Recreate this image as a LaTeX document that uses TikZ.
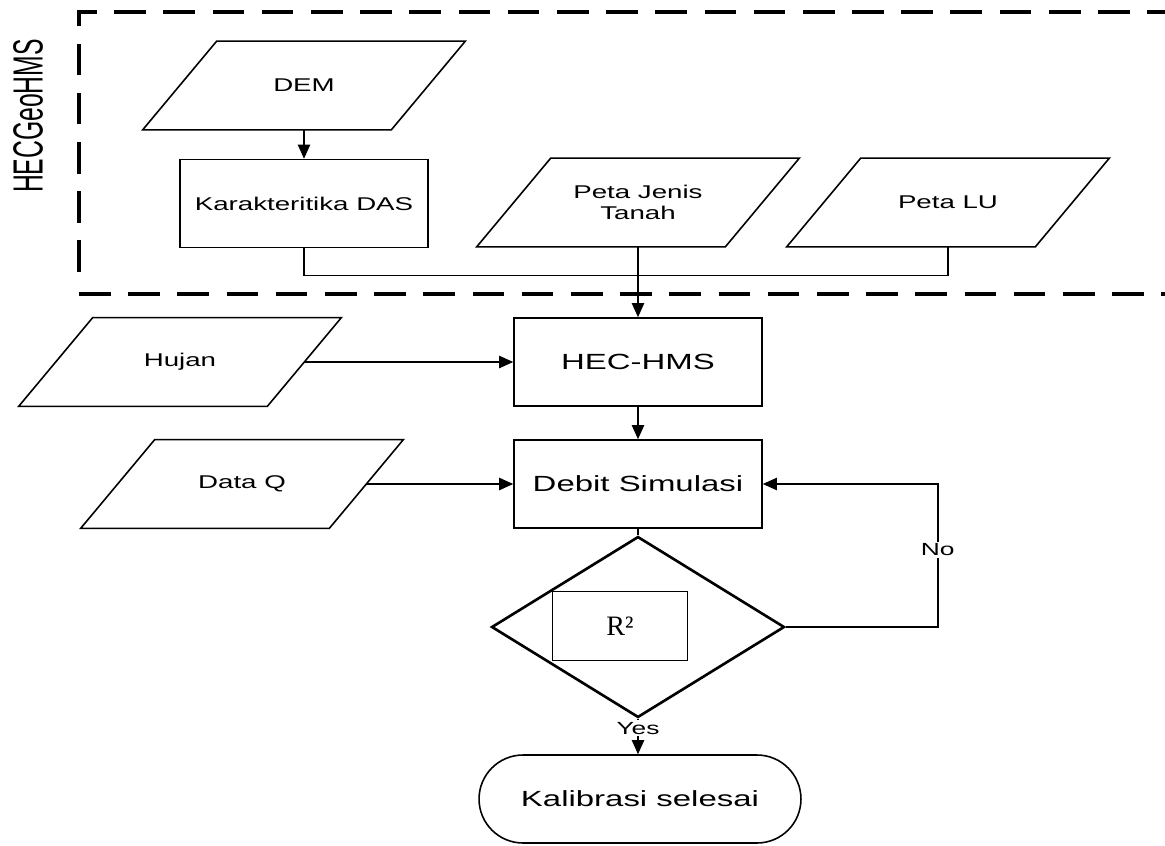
\documentclass[tikz,border=0pt]{standalone}
\usepackage{fontspec}
\setmainfont{Liberation Sans}
\newfontfamily\flowfont{Liberation Sans}[FakeStretch=1.5]
\newfontfamily\rfont{Liberation Serif}
\usetikzlibrary{shapes.geometric, arrows.meta}

\begin{document}
\begin{tikzpicture}[x=0.02cm, y=-0.02cm, >={Triangle[length=8pt,width=7pt]},
  datain/.style={minimum width=4.96cm, minimum height=1.76cm, inner sep=0pt,
    align=center, font=\flowfont\fontsize{10.5}{11.5}\selectfont,
    append after command={\pgfextra{\draw[line width=0.9pt]
      ([xshift=0.74cm]\tikzlastnode.north west) -- ([xshift=0.74cm]\tikzlastnode.north east)
      -- ([xshift=-0.74cm]\tikzlastnode.south east) -- ([xshift=-0.74cm]\tikzlastnode.south west)
      -- cycle;}}},
  procbox/.style={draw, line width=0.9pt, minimum width=4.96cm,
    minimum height=1.76cm, inner sep=0pt, align=center},
  cekbox/.style={draw, line width=1.5pt, diamond, minimum width=5.86cm,
    minimum height=3.62cm, inner sep=0pt},
  endbox/.style={draw, line width=0.9pt, rounded corners=0.88cm,
    minimum width=6.44cm, minimum height=1.76cm, inner sep=0pt},
  big/.style={font=\flowfont\fontsize{12.5}{14}\selectfont},
  small/.style={font=\flowfont\fontsize{10.5}{12}\selectfont},
  lbl/.style={fill=white, inner sep=1pt, font=\flowfont\fontsize{10}{12}\selectfont},
  link/.style={line width=0.8pt}]
  \useasboundingbox (0,0) rectangle (1165,845);

  % HEC-GeoHMS part
  \draw[line width=2.2pt, dash pattern=on 18pt off 10pt] (79,272) -- (79,12) -- (1165,12);
  \draw[line width=2.2pt, dash pattern=on 18pt off 10pt] (79,294) -- (1165,294);
  \node[rotate=90, font=\fontsize{16}{16}\selectfont] (hgeo) at (28,116)
    {\scalebox{0.88}[1.5]{HECGeoHMS}};

  \node[datain] (dem) at (304,85.5) {DEM};
  \node[procbox, small] (karak) at (304,203.5) {Karakteritika DAS};
  \node[datain] (jenis) at (638,202.5) {Peta Jenis\\Tanah};
  \node[datain] (lu) at (948,202.5) {Peta LU};

  % HEC-HMS part
  \node[datain] (hujan) at (180,362) {Hujan};
  \node[procbox, big] (hec) at (638,362) {HEC-HMS};
  \node[datain] (dataq) at (242,484) {Data Q};
  \node[procbox, big] (debit) at (638,484) {Debit Simulasi};
  \node[cekbox] (cek) at (638,627) {};
  \node[procbox, minimum width=2.7cm, minimum height=1.38cm,
    font=\rfont\fontsize{16}{16}\selectfont] (r2) at (620,626) {R²};
  \node[endbox, big] (akhir) at (640,799) {Kalibrasi selesai};

  \draw[link, ->] (dem) -- (karak);
  \draw[link] (karak.south) -- ++(0,27) -| (lu);
  \draw[link, ->] (jenis) -- (hec);
  \draw[link, ->] (hujan) -- (hec);
  \draw[link, ->] (hec) -- (debit);
  \draw[link, ->] (dataq) -- (debit);
  \draw[link] (debit) -- (cek.north);
  \draw[link, ->] (cek.east) -- ++(152,0) |- (debit.east)
    node[lbl, pos=0.27] {No};
  \draw[link, ->] (cek.south) -- (cek.south |- akhir.north)
    node[lbl, pos=0.27] {Yes};
\end{tikzpicture}
\end{document}
